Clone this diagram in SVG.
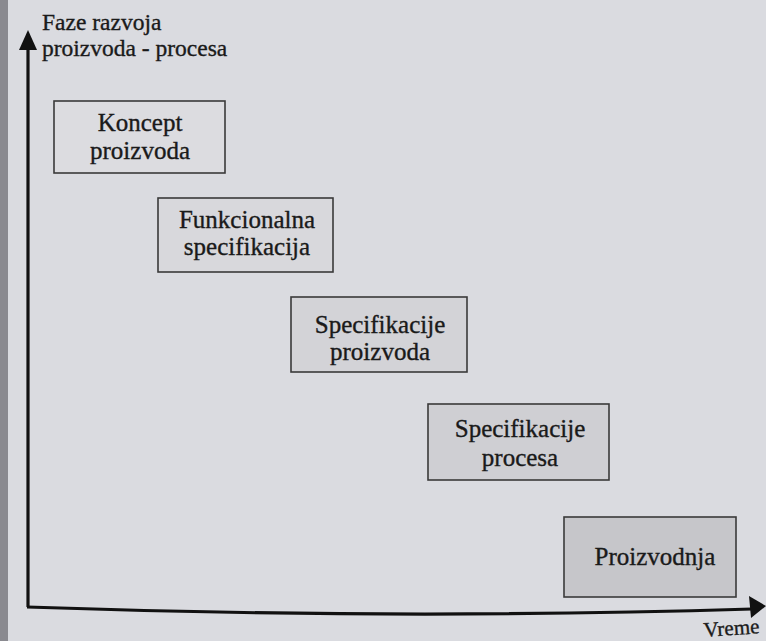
<svg xmlns="http://www.w3.org/2000/svg" width="766" height="641" viewBox="0 0 766 641">
<defs>
<style>
.t{font-family:"Liberation Serif","Times New Roman",serif;fill:#1a1a1a;stroke:#1a1a1a;stroke-width:0.35}
.lbl{font-size:25px;text-anchor:middle}
.ttl{font-size:23.5px}
.box{stroke:#3a3a3a;stroke-width:1.6}
.ax{stroke:#111;stroke-width:3.2;fill:none}
</style>
</defs>
<rect width="766" height="641" fill="#dadbe0"/>
<rect x="0" y="0" width="8" height="641" fill="#8a8a90"/>
<g id="title">
<text class="t ttl" x="42" y="30">Faze razvoja</text>
<text class="t ttl" x="42" y="55.5">proizvoda - procesa</text>
</g>
<g id="axes">
<line class="ax" x1="28" y1="607" x2="28" y2="46"/>
<path d="M28,30 L37,50 L19,50 Z" fill="#111"/>
<path class="ax" d="M27,607 Q400,620 752,609"/>
<path d="M766,606 L749,596 L751,618 Z" fill="#111"/>
<text class="t" x="704" y="637" font-size="21" transform="rotate(-4 704 637)">Vreme</text>
</g>
<g id="n1">
<rect class="box" x="54" y="101" width="171" height="72" fill="#dcdce0"/>
<text class="t lbl" x="140" y="131">Koncept</text>
<text class="t lbl" x="140" y="159">proizvoda</text>
</g>
<g id="n2">
<rect class="box" x="158" y="198" width="175" height="74" fill="#d8d8dc"/>
<text class="t lbl" x="247" y="228">Funkcionalna</text>
<text class="t lbl" x="247" y="255">specifikacija</text>
</g>
<g id="n3">
<rect class="box" x="291" y="297" width="176" height="75" fill="#d3d3d7"/>
<text class="t lbl" x="380" y="333">Specifikacije</text>
<text class="t lbl" x="380" y="360">proizvoda</text>
</g>
<g id="n4">
<rect class="box" x="428" y="404" width="181" height="76" fill="#cfcfd3"/>
<text class="t lbl" x="520" y="437">Specifikacije</text>
<text class="t lbl" x="520" y="466">procesa</text>
</g>
<g id="n5">
<rect class="box" x="564" y="517" width="172" height="80" fill="#c6c6ca"/>
<text class="t lbl" x="655" y="565">Proizvodnja</text>
</g>
</svg>
